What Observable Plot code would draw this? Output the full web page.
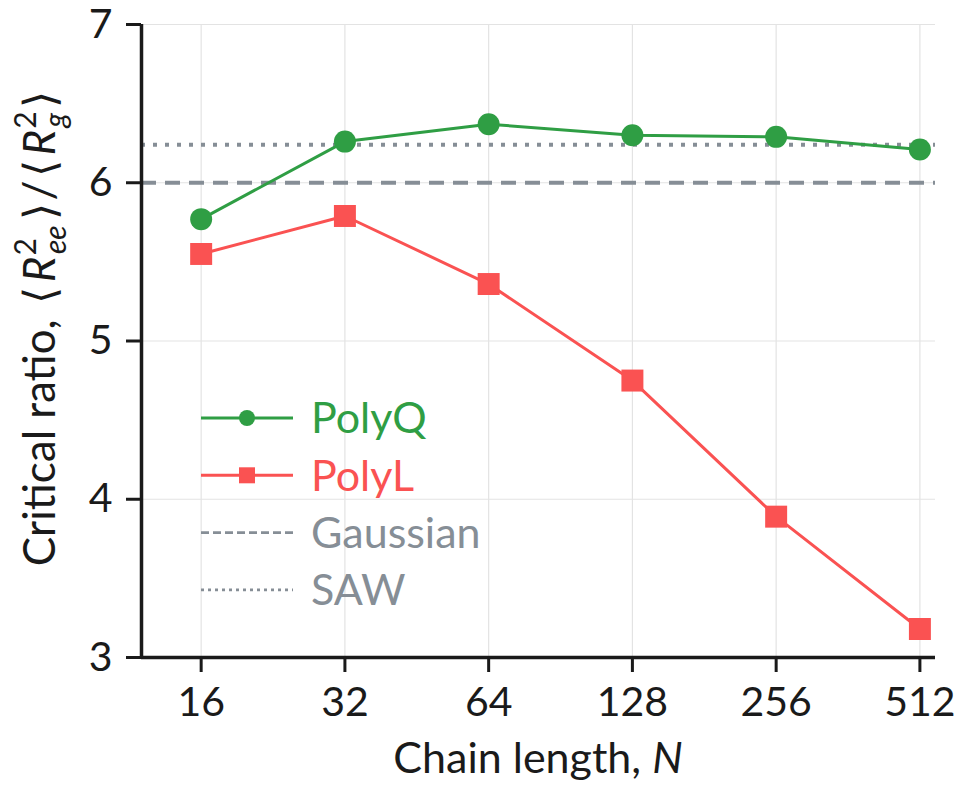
<!DOCTYPE html>
<html><head><meta charset="utf-8">
<script src="https://cdn.jsdelivr.net/npm/d3@7"></script>
<script src="https://cdn.jsdelivr.net/npm/@observablehq/plot@0.6"></script>
<style>
body{margin:0;background:#fff}
#chart{width:960px;height:787px}
</style>
</head><body><div id="chart"></div>
<script>
// ---- data ----
const chainLength = [16, 32, 64, 128, 256, 512];
const polyQ = [5.77, 6.26, 6.37, 6.30, 6.29, 6.21];
const polyL = [5.55, 5.79, 5.36, 4.75, 3.89, 3.18];
const gaussianRatio = [6];
const sawRatio = [6.24];
const xTicks = [16, 32, 64, 128, 256, 512];
const yTicks = [3, 4, 5, 6, 7];
const xDomain = [12, 552];
const yDomain = [3, 7];
const legendNames = ["PolyQ", "PolyL", "Gaussian", "SAW"];

const GREEN = "#2f9e44", RED = "#fa5252", GRAY = "#868e96", INK = "#1a1a1a";
const FONT = "Lato, 'Open Sans', sans-serif";

const qRows = chainLength.map((n, i) => ({N: n, ratio: polyQ[i]}));
const lRows = chainLength.map((n, i) => ({N: n, ratio: polyL[i]}));

const W = 960, H = 787;
const mL = 141, mR = 25, mT = 24, mB = 130;

const chart = Plot.plot({
  width: W, height: H,
  marginLeft: mL, marginRight: mR, marginTop: mT, marginBottom: mB,
  style: {fontFamily: FONT, color: INK, background: "#fff", overflow: "visible"},
  x: {type: "log", base: 2, domain: xDomain},
  y: {domain: yDomain},
  marks: [
    Plot.gridX(xTicks, {stroke: "#e3e3e3", strokeOpacity: 1, strokeWidth: 1.2}),
    Plot.gridY(yTicks, {stroke: "#e3e3e3", strokeOpacity: 1, strokeWidth: 1.2}),
    Plot.ruleY(gaussianRatio, {stroke: GRAY, strokeWidth: 4, strokeDasharray: "15,9"}),
    Plot.ruleY(sawRatio, {stroke: GRAY, strokeWidth: 4, strokeDasharray: "4,8"}),
    Plot.line(qRows, {x: "N", y: "ratio", stroke: GREEN, strokeWidth: 3}),
    Plot.line(lRows, {x: "N", y: "ratio", stroke: RED, strokeWidth: 3}),
    Plot.dot(qRows, {x: "N", y: "ratio", fill: GREEN, r: 11, symbol: "circle"}),
    Plot.dot(lRows, {x: "N", y: "ratio", fill: RED, r: 12.4, symbol: "square"}),
    Plot.ruleX([xDomain[0]], {stroke: INK, strokeWidth: 3.5}),
    Plot.ruleY([yDomain[0]], {stroke: INK, strokeWidth: 3.5}),
    Plot.axisX({ticks: xTicks, tickFormat: d => String(d), tickSize: 15, tickPadding: 14,
      fontSize: 41, stroke: INK, strokeWidth: 3, label: null}),
    Plot.axisY({ticks: yTicks, tickFormat: d => String(d), tickSize: 15, tickPadding: 14,
      fontSize: 41, stroke: INK, strokeWidth: 3, label: null})
  ]
});
document.getElementById("chart").appendChild(chart);

const svg = d3.select(chart);

// x axis label
const xl = svg.append("text")
  .attr("x", (mL + W - mR) / 2).attr("y", 773)
  .attr("text-anchor", "middle").attr("font-size", 43).attr("fill", INK)
  .attr("font-family", FONT);
xl.append("tspan").text("Chain length, ");
xl.append("tspan").attr("font-style", "italic").text("N");

// y axis label with math
const yl = svg.append("text")
  .attr("transform", `translate(55,${(mT + H - mB) / 2 - 12}) rotate(-90)`)
  .attr("text-anchor", "middle").attr("font-size", 44).attr("fill", INK)
  .attr("font-family", FONT);
function rterm(sel, sub) {
  sel.append("tspan").attr("dx", 5).attr("font-style", "italic").text("R");
  sel.append("tspan").attr("font-size", 30).attr("dx", 1).attr("dy", -19).text("2");
  sel.append("tspan").attr("font-size", 30).attr("font-style", "italic")
    .attr("dx", -16).attr("dy", 30).text(sub);
  sel.append("tspan").attr("dy", -11).attr("dx", 5).text("\u27E9");
}
yl.append("tspan").text("Critical ratio, ");
yl.append("tspan").attr("dx", 4).text("\u27E8");
rterm(yl, "ee");
yl.append("tspan").attr("dx", 3).text("/");
yl.append("tspan").attr("dx", 3).text("\u27E8");
rterm(yl, "g");

// legend
const legX0 = 201, legX1 = 293, legTextX = 311, legY0 = 418, legDY = 57.3;
const legendStyle = {
  PolyQ: {color: GREEN, marker: "circle", dash: null, text: GREEN},
  PolyL: {color: RED, marker: "square", dash: null, text: RED},
  Gaussian: {color: GRAY, marker: null, dash: "8,4", text: GRAY},
  SAW: {color: GRAY, marker: null, dash: "3,4", text: GRAY}
};
const lg = svg.append("g");
legendNames.forEach((name, i) => {
  const s = legendStyle[name];
  const y = legY0 + i * legDY;
  lg.append("line").attr("x1", legX0).attr("x2", legX1).attr("y1", y).attr("y2", y)
    .attr("stroke", s.color).attr("stroke-width", s.dash ? 2.8 : 3)
    .attr("stroke-dasharray", s.dash);
  const mx = (legX0 + legX1) / 2;
  if (s.marker === "circle") lg.append("circle").attr("cx", mx).attr("cy", y).attr("r", 8).attr("fill", s.color);
  if (s.marker === "square") lg.append("rect").attr("x", mx - 8).attr("y", y - 8).attr("width", 16).attr("height", 16).attr("fill", s.color);
  lg.append("text").attr("x", legTextX).attr("y", y).attr("dy", "0.36em")
    .attr("text-anchor", "start")
    .attr("font-size", 43).attr("fill", s.text).attr("font-family", FONT).text(name);
});
</script>
</body></html>
